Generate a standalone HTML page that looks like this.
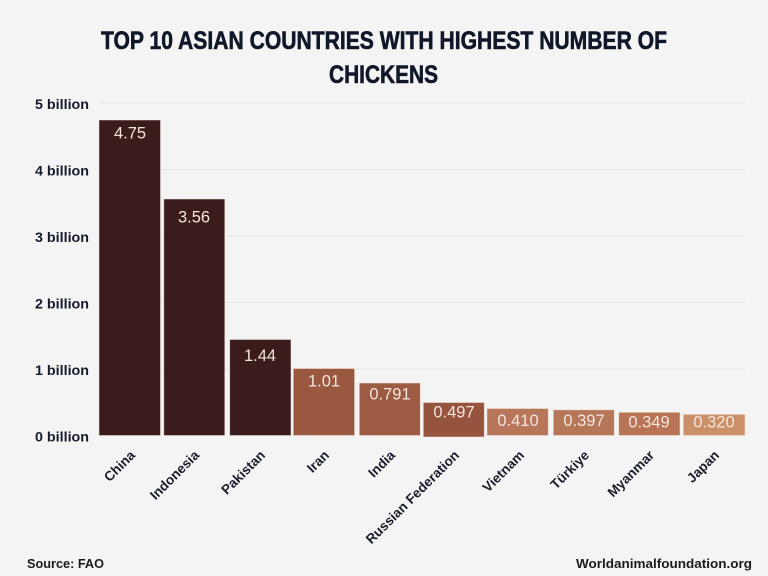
<!DOCTYPE html>
<html>
<head>
<meta charset="utf-8">
<style>
  html,body{margin:0;padding:0;background:#f4f4f4;}
  svg{display:block;}
  text{font-family:"Liberation Sans",sans-serif;}
</style>
</head>
<body>
<svg width="768" height="576" viewBox="0 0 768 576" xmlns="http://www.w3.org/2000/svg">
  <rect x="0" y="0" width="768" height="576" fill="#f4f4f4"/>

  <!-- Title -->
  <text x="101" y="49" font-size="25" font-weight="bold" fill="#0f1729" stroke="#0f1729" stroke-width="0.6" textLength="566" lengthAdjust="spacingAndGlyphs">TOP 10 ASIAN COUNTRIES WITH HIGHEST NUMBER OF</text>
  <text x="329" y="83" font-size="25" font-weight="bold" fill="#0f1729" stroke="#0f1729" stroke-width="0.6" textLength="109" lengthAdjust="spacingAndGlyphs">CHICKENS</text>

  <!-- Gridlines -->
  <g stroke="#e3e3e3" stroke-width="1">
    <line x1="99" y1="103" x2="745" y2="103"/>
    <line x1="99" y1="169.5" x2="745" y2="169.5"/>
    <line x1="99" y1="236" x2="745" y2="236"/>
    <line x1="99" y1="302.5" x2="745" y2="302.5"/>
    <line x1="99" y1="369" x2="745" y2="369"/>
  </g>

  <!-- Y axis labels -->
  <g font-size="14" font-weight="bold" fill="#141a2b" text-anchor="end">
    <text x="89" y="109" textLength="54" lengthAdjust="spacingAndGlyphs">5 billion</text>
    <text x="89" y="175.5" textLength="54" lengthAdjust="spacingAndGlyphs">4 billion</text>
    <text x="89" y="242" textLength="54" lengthAdjust="spacingAndGlyphs">3 billion</text>
    <text x="89" y="308.5" textLength="54" lengthAdjust="spacingAndGlyphs">2 billion</text>
    <text x="89" y="375" textLength="54" lengthAdjust="spacingAndGlyphs">1 billion</text>
    <text x="89" y="441.5" textLength="54" lengthAdjust="spacingAndGlyphs">0 billion</text>
  </g>

  <!-- Bars -->
  <g stroke="#f6ece6" stroke-width="0.8" stroke-opacity="0.6">
    <rect x="99" y="120" width="61.5" height="315.5" fill="#3b1c1c"/>
    <rect x="163.8" y="199" width="61" height="236.5" fill="#3b1c1c"/>
    <rect x="229.7" y="339.5" width="61.3" height="96" fill="#3b1c1c"/>
    <rect x="293.3" y="368.5" width="61.3" height="67" fill="#9b5841"/>
    <rect x="359.3" y="383" width="61" height="52.5" fill="#9e5b43"/>
    <rect x="423.3" y="402.5" width="61" height="34.5" fill="#96533d"/>
    <rect x="487" y="408.5" width="61.3" height="27" fill="#b8775a"/>
    <rect x="553.3" y="409.8" width="61" height="25.7" fill="#b67759"/>
    <rect x="618.7" y="412.3" width="61.3" height="23.2" fill="#b87454"/>
    <rect x="683.3" y="414.3" width="61.7" height="21.2" fill="#cc9068"/>
  </g>

  <!-- Value labels -->
  <g font-size="16.5" fill="#f3e6de" text-anchor="middle">
    <text x="130" y="138.7">4.75</text>
    <text x="194" y="222.7">3.56</text>
    <text x="260" y="361">1.44</text>
    <text x="324" y="386.7">1.01</text>
    <text x="390" y="399.3">0.791</text>
    <text x="454" y="417.7">0.497</text>
    <text x="518" y="426">0.410</text>
    <text x="584" y="426">0.397</text>
    <text x="649" y="427.7">0.349</text>
    <text x="714" y="427.7">0.320</text>
  </g>

  <!-- X axis labels -->
  <g font-size="13.5" font-weight="bold" fill="#1a1d2b" text-anchor="end">
    <text transform="translate(136,456) rotate(-45)">China</text>
    <text transform="translate(200,456) rotate(-45)">Indonesia</text>
    <text transform="translate(266,456) rotate(-45)">Pakistan</text>
    <text transform="translate(330,456) rotate(-45)">Iran</text>
    <text transform="translate(396,456) rotate(-45)">India</text>
    <text transform="translate(460,456) rotate(-45)">Russian Federation</text>
    <text transform="translate(525,456) rotate(-45)">Vietnam</text>
    <text transform="translate(590,456) rotate(-45)">Türkiye</text>
    <text transform="translate(655,456) rotate(-45)">Myanmar</text>
    <text transform="translate(720,456) rotate(-45)">Japan</text>
  </g>

  <!-- Footer -->
  <text x="27" y="568" font-size="13" font-weight="bold" fill="#1b1b1b" textLength="77" lengthAdjust="spacingAndGlyphs">Source: FAO</text>
  <text x="576" y="568" font-size="13" font-weight="bold" fill="#1b1b1b" textLength="176" lengthAdjust="spacingAndGlyphs">Worldanimalfoundation.org</text>
</svg>
</body>
</html>
